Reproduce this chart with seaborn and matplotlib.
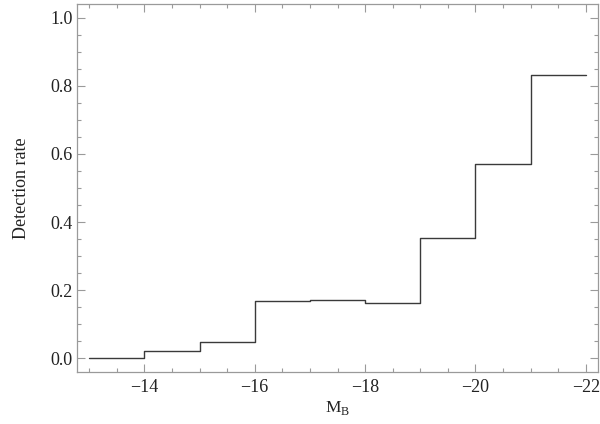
import matplotlib
matplotlib.use("Agg")
import matplotlib.pyplot as plt
from matplotlib.ticker import MultipleLocator
import seaborn as sns
import pandas as pd

# Data: bin edges in M_B and detection rate per bin (last value repeated to close the step)
mag_edges = [-13, -14, -15, -16, -17, -18, -19, -20, -21, -22]
detection_rate = [0.0, 0.021, 0.046, 0.169, 0.172, 0.161, 0.353, 0.571, 0.832, 0.832]

sns.set_theme(style="white")
plt.rcParams['font.family'] = ['Liberation Serif', 'DejaVu Serif']
plt.rcParams['mathtext.fontset'] = 'custom'
plt.rcParams['mathtext.rm'] = 'Liberation Serif'

df = pd.DataFrame({"mag": mag_edges, "rate": detection_rate})

fig = plt.figure(figsize=(6.0, 4.24), dpi=100)
ax = fig.add_axes([77/600, 1 - 372/424, (598-77)/600, (372-4)/424])

sns.lineplot(data=df, x="mag", y="rate", sort=False, drawstyle="steps-post",
             color="#3a3a3a", linewidth=1.0, ax=ax)

ax.set_xlim(-12.78, -22.22)
ax.set_ylim(-0.041, 1.041)

ax.xaxis.set_major_locator(MultipleLocator(2))
ax.xaxis.set_minor_locator(MultipleLocator(0.5))
ax.yaxis.set_major_locator(MultipleLocator(0.2))
ax.yaxis.set_minor_locator(MultipleLocator(0.05))
ax.yaxis.set_major_formatter(matplotlib.ticker.FormatStrFormatter('%.1f'))
ax.xaxis.set_major_formatter(matplotlib.ticker.FuncFormatter(lambda v, p: f"\u2212{abs(int(round(v)))}"))

frame_col = "#9a9a9a"
for s in ax.spines.values():
    s.set_color(frame_col)
    s.set_linewidth(0.9)
    s.set_visible(True)

ax.tick_params(which='both', direction='in', top=True, right=True, bottom=True, left=True,
               color=frame_col, width=0.8, labelsize=13, labelcolor="#222222")
ax.tick_params(which='major', length=5.8)
ax.tick_params(which='minor', length=2.9)
ax.tick_params(axis='x', which='major', pad=5)
ax.tick_params(axis='y', which='major', pad=3)
ax.grid(False)

ax.set_xlabel(r"M$_\mathrm{B}$", fontsize=12.5, color="#222222", labelpad=2)
ax.set_ylabel("Detection rate", fontsize=13, color="#222222", labelpad=15)

fig.savefig("out.png", dpi=100, facecolor="white")
